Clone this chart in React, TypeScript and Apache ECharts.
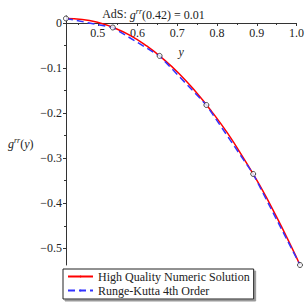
import React, { useEffect, useRef } from "react";
import * as echarts from "echarts";

const redX = [0.42, 0.46, 0.5, 0.54, 0.58, 0.62, 0.66, 0.7, 0.74, 0.78, 0.82, 0.86, 0.9, 0.94, 0.98, 1.0];
const redY = [0.01, 0.008, 0.001, -0.011, -0.028, -0.051, -0.079, -0.112, -0.151, -0.195, -0.244, -0.3, -0.36, -0.427, -0.499, -0.537];
const rkX = [0.42, 0.536, 0.652, 0.768, 0.884, 1.0];
const rkY = [0.01, -0.01, -0.073, -0.182, -0.335, -0.537];
const xTicks = [0.5, 0.6, 0.7, 0.8, 0.9, 1.0];
const xMinor = [0.45, 0.55, 0.65, 0.75, 0.85, 0.95];
const yTicks = [0, -0.1, -0.2, -0.3, -0.4, -0.5];
const yMinor = [-0.05, -0.15, -0.25, -0.35, -0.45];
const seriesNames = ["High Quality Numeric Solution", "Runge-Kutta 4th Order"];

const FONT = "Liberation Serif";
const AX = "#333";
const X_MIN = 0.42;
const X_MAX = 1.0;
const Y_MIN = -0.537;
const Y_MAX = 0.0155;
const H = 305;
const G_TOP = 16;
const G_BOTTOM = 40;

export default function App() {
  const ref = useRef<HTMLDivElement>(null);
  useEffect(() => {
    const chart = echarts.init(ref.current!, null, { renderer: "svg" });
    const fmt = (v: number) => {
      const s = Math.abs(v) < 1e-9 ? "0" : v.toFixed(1);
      return s.replace("-", "\u2212");
    };
    const plotH = H - G_TOP - G_BOTTOM;
    const zeroPx = G_TOP + (plotH * Y_MAX) / (Y_MAX - Y_MIN);
    const xBase = { type: "value", min: X_MIN, max: X_MAX, position: "bottom", splitLine: { show: false } };
    const yBase = { type: "value", min: Y_MIN, max: Y_MAX, position: "left", splitLine: { show: false } };
    chart.setOption({
      animation: false,
      textStyle: { fontFamily: FONT },
      title: {
        text: "AdS: {it|g}{sup|rr}{n|(0.42) = 0.01}",
        left: "center",
        top: 2,
        textStyle: {
          fontFamily: FONT,
          fontWeight: "normal",
          fontSize: 12,
          color: "#222",
          rich: {
            n: { fontFamily: FONT, fontSize: 12, color: "#222", lineHeight: 14, verticalAlign: "bottom" },
            it: { fontFamily: FONT, fontSize: 12, fontStyle: "italic", color: "#222", lineHeight: 14, verticalAlign: "bottom" },
            sup: { fontFamily: FONT, fontSize: 8, fontStyle: "italic", color: "#222", lineHeight: 14, verticalAlign: "top" },
          },
        },
      },
      grid: [
        { left: 66, right: 7, top: G_TOP, bottom: G_BOTTOM, containLabel: false },
        { left: 66, right: 7, top: G_TOP, bottom: H - zeroPx, containLabel: false },
      ],
      xAxis: [
        {
          ...xBase,
          gridIndex: 0,
          axisLine: { show: false, onZero: false },
          axisTick: { show: false },
          axisLabel: { show: false },
        },
        {
          ...xBase,
          gridIndex: 1,
          name: "y",
          nameLocation: "middle",
          nameGap: 23,
          nameTextStyle: { fontFamily: FONT, fontStyle: "italic", fontSize: 12, color: "#222" },
          axisLine: { show: true, onZero: false, lineStyle: { color: AX, width: 1 } },
          axisTick: { show: true, inside: false, length: 3, customValues: xTicks, lineStyle: { color: AX } },
          axisLabel: { customValues: xTicks, formatter: fmt, fontFamily: FONT, fontSize: 12, color: "#222", margin: 4 },
        },
        {
          ...xBase,
          gridIndex: 1,
          axisLine: { show: false, onZero: false },
          axisTick: { show: true, inside: false, length: 2, customValues: xMinor, lineStyle: { color: AX } },
          axisLabel: { show: false },
        },
      ],
      yAxis: [
        {
          ...yBase,
          gridIndex: 0,
          axisLine: { show: true, onZero: false, lineStyle: { color: AX, width: 1 } },
          axisTick: { show: true, inside: false, length: 3, customValues: yTicks, lineStyle: { color: AX } },
          axisLabel: { customValues: yTicks, formatter: fmt, fontFamily: FONT, fontSize: 12, color: "#222", margin: 4 },
        },
        {
          ...yBase,
          gridIndex: 0,
          offset: 0,
          axisLine: { show: false, onZero: false },
          axisTick: { show: true, inside: false, length: 2, customValues: yMinor, lineStyle: { color: AX } },
          axisLabel: { show: false },
        },
        {
          type: "value",
          gridIndex: 1,
          min: 0,
          max: 1,
          show: false,
        },
      ],
      legend: {
        data: seriesNames,
        orient: "vertical",
        left: 63,
        top: 269,
        padding: [1, 4, 2, 4],
        itemGap: 1,
        itemWidth: 25,
        itemHeight: 2,
        borderColor: "#222",
        borderWidth: 1,
        backgroundColor: "#fff",
        shadowColor: "#999",
        shadowOffsetX: 2,
        shadowOffsetY: 2,
        shadowBlur: 0,
        textStyle: { fontFamily: FONT, fontSize: 12, color: "#222", lineHeight: 13, height: 13 },
      },
      series: [
        {
          name: seriesNames[0],
          type: "line",
          xAxisIndex: 0,
          yAxisIndex: 0,
          data: redX.map((x, i) => [x, redY[i]]),
          smooth: true,
          showSymbol: false,
          symbol: "none",
          lineStyle: { color: "#ff0000", width: 1.5 },
          itemStyle: { color: "#ff0000" },
        },
        {
          name: seriesNames[1],
          type: "line",
          xAxisIndex: 0,
          yAxisIndex: 0,
          data: rkX.map((x, i) => [x, rkY[i]]),
          symbol: "none",
          lineStyle: { color: "#3333ff", width: 1.5, type: [7, 4] },
          itemStyle: { color: "#3333ff" },
        },
        {
          name: "points",
          type: "scatter",
          xAxisIndex: 0,
          yAxisIndex: 0,
          data: rkX.map((x, i) => [x, rkY[i]]),
          symbol: "circle",
          symbolSize: 5,
          itemStyle: { color: "#fff", borderColor: "#222", borderWidth: 1 },
          z: 5,
        },
      ],
      graphic: [
        {
          type: "text",
          x: 8,
          y: 136,
          style: {
            text: "{it|g}{sup|rr}{n|(}{it|y}{n|)}",
            rich: {
              n: { fontFamily: FONT, fontSize: 12, fill: "#222", lineHeight: 14, verticalAlign: "bottom" },
              it: { fontFamily: FONT, fontSize: 12, fontStyle: "italic", fill: "#222", lineHeight: 14, verticalAlign: "bottom" },
              sup: { fontFamily: FONT, fontSize: 8, fontStyle: "italic", fill: "#222", lineHeight: 14, verticalAlign: "top" },
            },
          },
        },
      ],
    });
    return () => chart.dispose();
  }, []);
  return <div ref={ref} style={{ position: "absolute", left: 0, top: 0, width: 307, height: 305 }} />;
}
